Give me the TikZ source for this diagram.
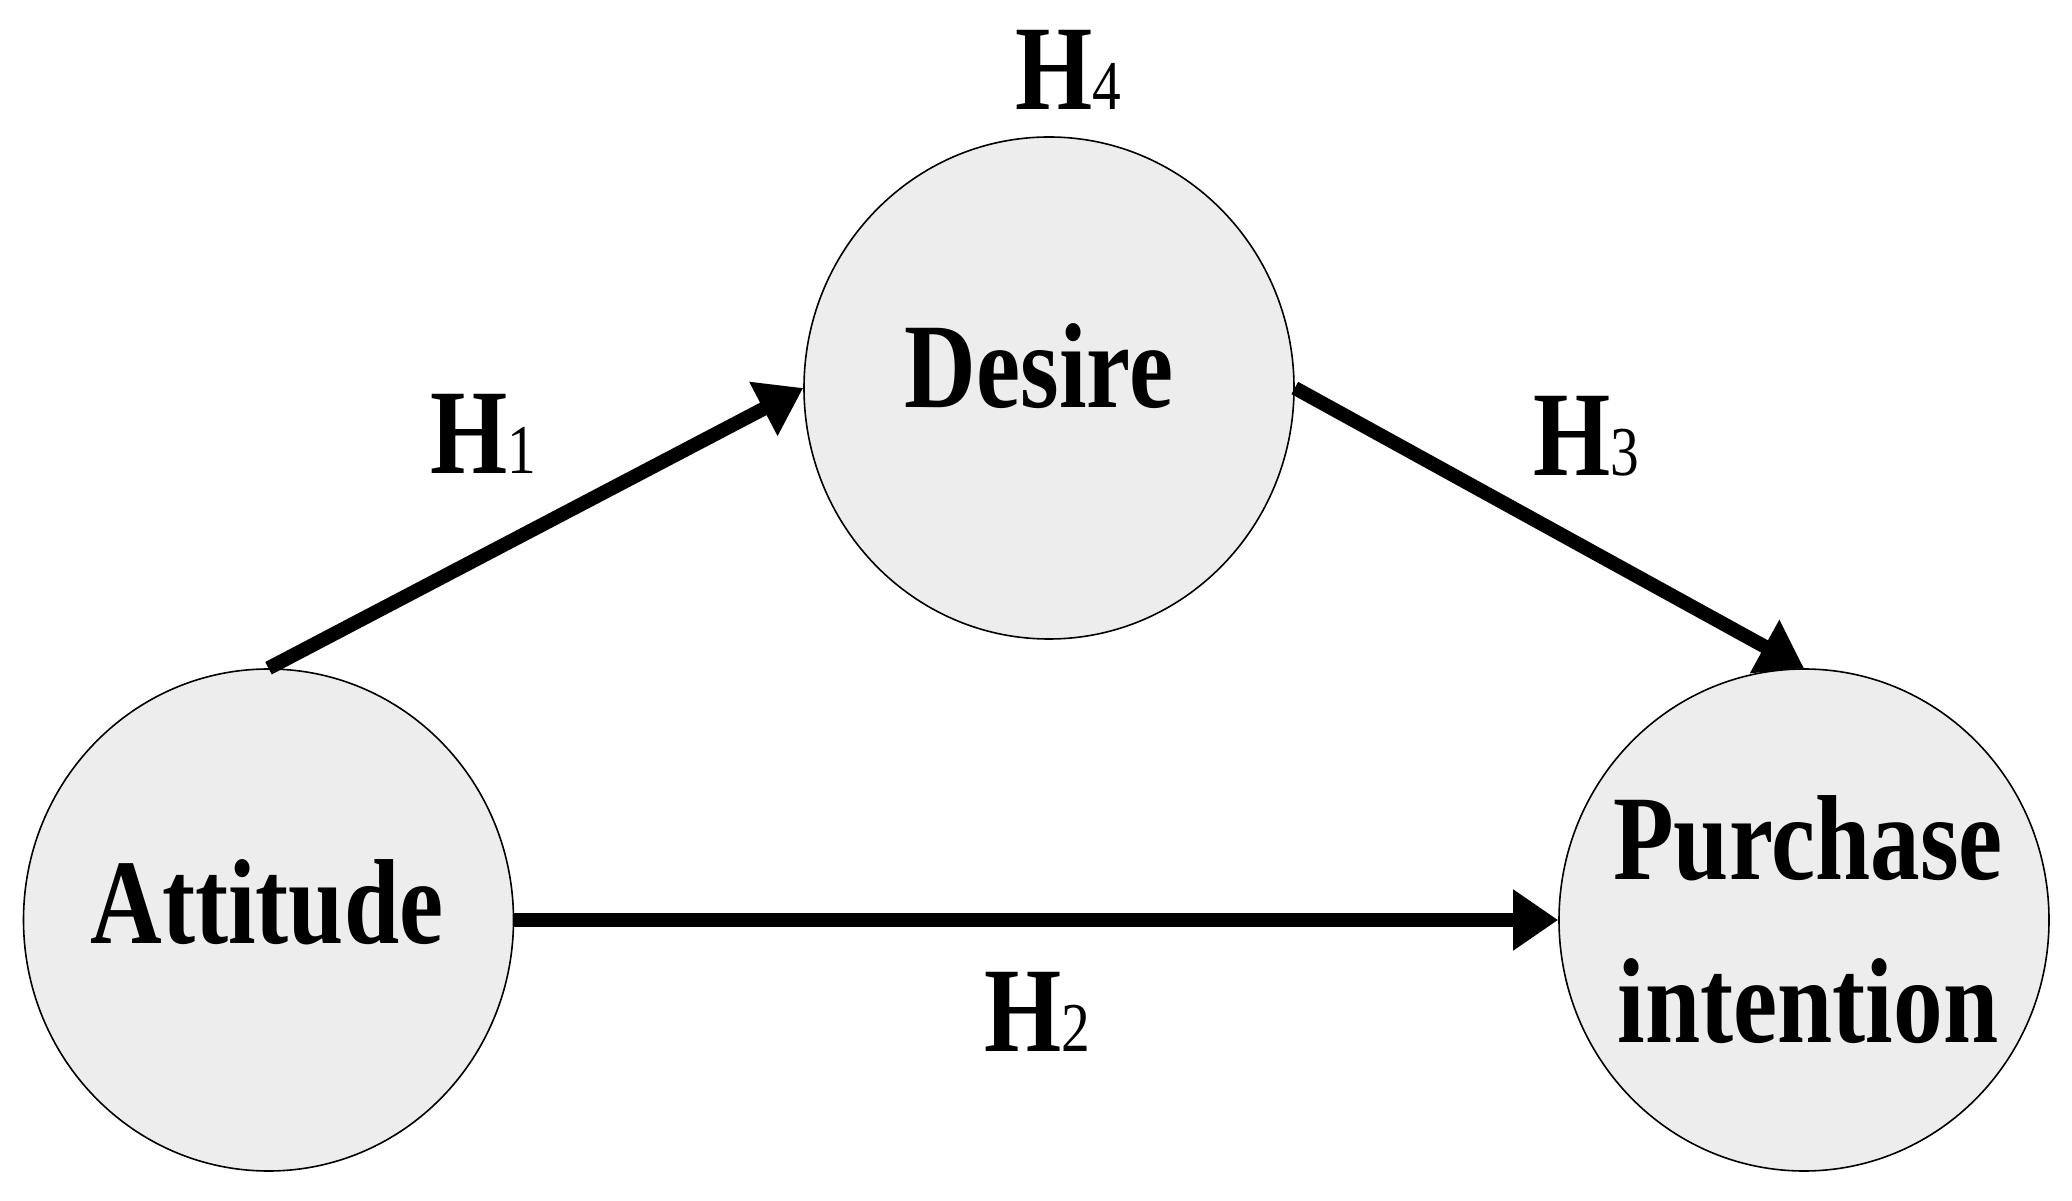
\documentclass[tikz,border=0pt]{standalone}
\usepackage{fontspec}
\setmainfont[FakeStretch=0.82]{Liberation Serif}
\usetikzlibrary{arrows.meta,shapes.geometric}
\definecolor{fillg}{HTML}{EDEDED}
\newcommand\hyp[1]{H{\fontsize{70}{70}\selectfont\mdseries #1}}
\begin{document}
\begin{tikzpicture}[x=1pt,y=1pt,
  var/.style={ellipse, draw=black, line width=1.6pt, fill=fillg, minimum width=490pt, minimum height=502pt, inner sep=0pt},
  vtext/.style={inner sep=0pt, align=center, font=\fontsize{121}{163}\selectfont\bfseries},
  arr/.style={line width=14pt, -{Triangle[length=45pt,width=58pt]}},
  hlab/.style={anchor=base, inner sep=0pt, font=\fontsize{121}{121}\selectfont\bfseries}]
\useasboundingbox (0,0) rectangle (2072,1200);
\fill[white] (0,0) rectangle (2072,1200);
\node[var] (att) at (268.5,280) {};
\node[var] (des) at (1049,812) {};
\node[var] (pur) at (1804,280) {};
\node[vtext, anchor=base] (attT) at (267,256) {Attitude};
\node[vtext, anchor=base] (desT) at (1039,792) {Desire};
\node[vtext] (purT) at (1808,280) {Purchase\\intention};
\draw[arr] (att.north) -- (des.west);
\draw[arr] (des.east) -- (pur.north);
\draw[arr] (att.east) -- (pur.west);
\node[hlab] (h1) at (483.5,726) {\hyp{1}};
\node[hlab] (h2) at (1037,149) {\hyp{2}};
\node[hlab] (h3) at (1586,724) {\hyp{3}};
\node[hlab] (h4) at (1068,1090) {\hyp{4}};
\end{tikzpicture}
\end{document}
